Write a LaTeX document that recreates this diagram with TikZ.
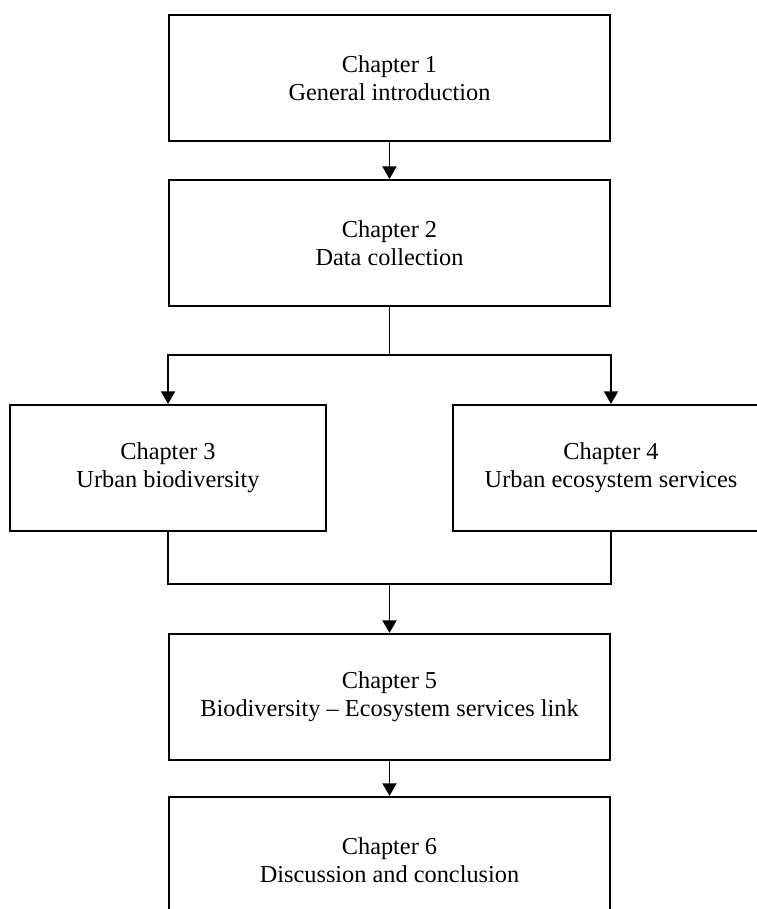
\documentclass[tikz,border=0pt]{standalone}
\usepackage{fontspec}
\setmainfont{Liberation Serif}
\usetikzlibrary{arrows.meta,positioning}

\begin{document}
\begin{tikzpicture}[
    node distance=0.925cm,
    chapbox/.style={rectangle, draw, line width=1.4pt, minimum width=11.025cm, minimum height=3.15cm, align=center, inner sep=0pt, font=\fontsize{17.3}{20}\selectfont},
    sidebox/.style={chapbox, minimum width=7.9cm},
    link/.style={line width=1.4pt},
    arrow/.style={link, -{Triangle[width=10pt,length=9pt]}}
]
    \useasboundingbox (0,0) rectangle (18.9,-22.725);

    \node[chapbox] (ch1) at (9.7375,-1.95) {Chapter 1\\General introduction};
    \node[chapbox, below=of ch1] (ch2) {Chapter 2\\Data collection};
    
    \node[sidebox, below=2.425cm of ch2.south west] (ch3) {Chapter 3\\Urban biodiversity};
    \node[sidebox, below=2.425cm of ch2.south east] (ch4) {Chapter 4\\Urban ecosystem services};
    
    \node[chapbox, below=8.15cm of ch2] (ch5) {Chapter 5\\Biodiversity -- Ecosystem services link};
    \node[chapbox, below=0.875cm of ch5] (ch6) {Chapter 6\\Discussion and conclusion};
    
    \draw[arrow] (ch1) -- (ch2);
    \draw[link] (ch2.south) -- ++(0,-1.2) coordinate (split);
    \draw[arrow] (split) -| (ch3.north);
    \draw[arrow] (split) -| (ch4.north);
    
    \draw[link] (ch3.south) -- ++(0,-1.3) coordinate (merge) -| (ch4.south);
    \draw[arrow] (merge -| ch5.north) -- (ch5.north);
    \draw[arrow] (ch5) -- (ch6);
\end{tikzpicture}
\end{document}
